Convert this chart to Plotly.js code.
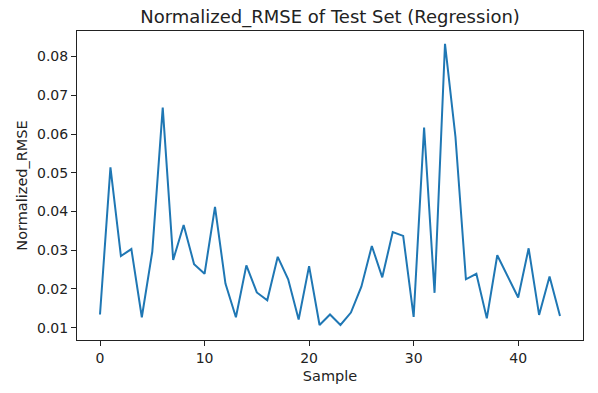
<!DOCTYPE html>
<html>
<head>
<meta charset="utf-8">
<script src="https://cdn.plot.ly/plotly-3.0.1.min.js"></script>
<style>
  html, body { margin: 0; padding: 0; background: #fff; }
  #chart { width: 598px; height: 393px; }
</style>
</head>
<body>
<div id="chart"></div>
<script>
// sample index 0..44
var samples = [];
for (var i = 0; i < 45; i++) samples.push(i);

// values
var nrmse = [
  0.0134, 0.0514, 0.0285, 0.0303, 0.0127, 0.0296, 0.0668, 0.0275, 0.0365, 0.0264,
  0.0239, 0.0412, 0.0214, 0.0127, 0.0261, 0.0191, 0.0171, 0.0283, 0.0225, 0.0121,
  0.0259, 0.0107, 0.0134, 0.0107, 0.0139, 0.0206, 0.0311, 0.0230, 0.0347, 0.0337,
  0.0128, 0.0617, 0.0190, 0.0833, 0.0593, 0.0225, 0.0239, 0.0124, 0.0287, 0.0233,
  0.0178, 0.0305, 0.0133, 0.0232, 0.0130
];

var xTicks = [0, 10, 20, 30, 40];
var yTicks = [0.01, 0.02, 0.03, 0.04, 0.05, 0.06, 0.07, 0.08];

var font = 'DejaVu Sans, sans-serif';

var data = [
  {
    type: 'scatter',
    mode: 'lines',
    x: samples,
    y: nrmse,
    line: {color: '#1f77b4', width: 2},
    hoverinfo: 'x+y'
  }
];

var layout = {
  width: 598,
  height: 393,
  margin: {l: 77, r: 15, t: 31, b: 53},
  paper_bgcolor: '#ffffff',
  plot_bgcolor: '#ffffff',
  showlegend: false,
  font: {family: font, size: 14, color: '#222'},
  title: {
    text: 'Normalized_RMSE of Test Set (Regression)',
    font: {family: font, size: 18, color: '#222'},
    xref: 'paper',
    x: 0.5,
    xanchor: 'center',
    yref: 'container',
    y: 0.958,
    yanchor: 'middle'
  },
  xaxis: {
    range: [-2.2, 46.2],
    tickvals: xTicks,
    ticktext: xTicks.map(String),
    ticks: 'outside',
    ticklen: 5,
    tickwidth: 1,
    tickcolor: '#222',
    showgrid: false,
    zeroline: false,
    showline: true,
    mirror: true,
    linecolor: '#222',
    linewidth: 1,
    tickfont: {family: font, size: 14, color: '#222'},
    title: {text: 'Sample', font: {family: font, size: 14.5, color: '#222'}, standoff: 6}
  },
  yaxis: {
    range: [0.00682, 0.0866],
    tickvals: yTicks,
    ticktext: yTicks.map(function (v) { return v.toFixed(2); }),
    ticks: 'outside',
    ticklen: 5,
    tickwidth: 1,
    tickcolor: '#222',
    showgrid: false,
    zeroline: false,
    showline: true,
    mirror: true,
    linecolor: '#222',
    linewidth: 1,
    tickfont: {family: font, size: 14, color: '#222'},
    title: {text: 'Normalized_RMSE', font: {family: font, size: 14.5, color: '#222'}, standoff: 5}
  }
};

Plotly.newPlot('chart', data, layout, {displayModeBar: false, staticPlot: true});
</script>
</body>
</html>
